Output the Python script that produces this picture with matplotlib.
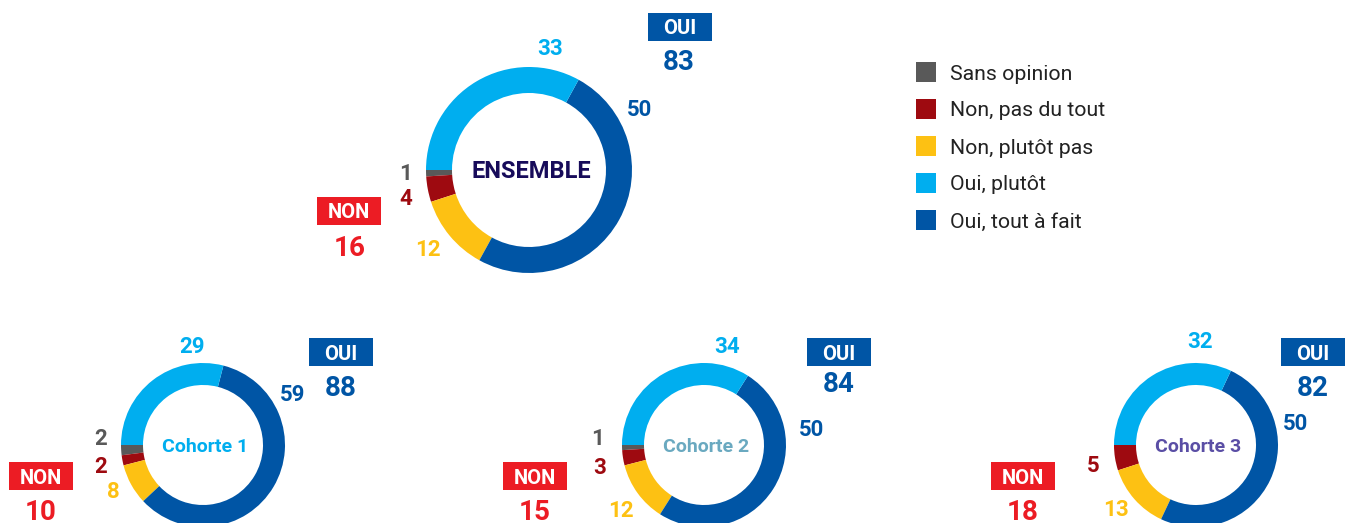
import matplotlib
matplotlib.use("Agg")
import matplotlib.pyplot as plt
from matplotlib.patches import Rectangle

plt.rcParams['font.family'] = ['Roboto', 'DejaVu Sans']

# ---- data ----
categories = ["Sans opinion", "Non, pas du tout", "Non, plutôt pas", "Oui, tout à fait", "Oui, plutôt"]
legend_order = ["Sans opinion", "Non, pas du tout", "Non, plutôt pas", "Oui, plutôt", "Oui, tout à fait"]
chart_titles = ["ENSEMBLE", "Cohorte 1", "Cohorte 2", "Cohorte 3"]
ensemble = [1, 4, 12, 50, 33]
cohorte1 = [2, 2, 8, 59, 29]
cohorte2 = [1, 3, 12, 50, 34]
cohorte3 = [0, 5, 13, 50, 32]
oui_totals = [83, 88, 84, 82]
non_totals = [16, 10, 15, 18]

# ---- style ----
colors = {"Sans opinion": "#595959", "Non, pas du tout": "#9e0a10",
          "Non, plutôt pas": "#fdc113", "Oui, plutôt": "#00aeef",
          "Oui, tout à fait": "#0055a5"}
title_colors = ["#170b5a", "#00aeef", "#6aa9c0", "#5a4ea5"]
OUI_C = "#0055a5"
NON_C = "#ec1c24"

W, H = 1352, 523
fig = plt.figure(figsize=(W / 100, H / 100), dpi=100)
ax = fig.add_axes([0, 0, 1, 1])

TY = 2  # small downward nudge for text so glyphs sit centred like the reference

def Y(y):
    return H - y

def YT(y):
    return H - y - TY

# layout: center, outer radius, ring width, label positions (image px)
layouts = [
    dict(c=(529, 170), r=103, w=26, fs_t=17,
         lab=[(406, 172), (406, 197), (428, 248), (640, 108), (550, 47)],
         non_box=(349, 211), non_val=(350, 246), oui_box=(680, 27), oui_val=(679, 60)),
    dict(c=(203, 445), r=82, w=22, fs_t=14,
         lab=[(101, 437), (101, 465), (113, 490), (293, 393), (192, 345)],
         non_box=(41, 476), non_val=(41, 510), oui_box=(341, 352), oui_val=(341, 386)),
    dict(c=(704, 445), r=82, w=22, fs_t=14,
         lab=[(598, 437), (600, 466), (621, 509), (812, 428), (727, 345)],
         non_box=(535, 476), non_val=(535, 511), oui_box=(839, 352), oui_val=(839, 383)),
    dict(c=(1196, 445), r=82, w=22, fs_t=14,
         lab=[(1098, 437), (1093, 464), (1116, 508), (1296, 422), (1200, 340)],
         non_box=(1023, 476), non_val=(1023, 511), oui_box=(1313, 352), oui_val=(1313, 386)),
]

datasets = [ensemble, cohorte1, cohorte2, cohorte3]

for i, (vals, L) in enumerate(zip(datasets, layouts)):
    cx, cy = L["c"]
    ax.pie(vals, colors=[colors[c] for c in categories], startangle=180,
           counterclock=True, center=(cx, Y(cy)), radius=L["r"],
           wedgeprops=dict(width=L["w"], linewidth=0))
    ax.text(cx + 2, YT(cy), chart_titles[i], ha="center", va="center",
            fontsize=L["fs_t"], fontweight="bold", color=title_colors[i])
    for cat, v, (lx, ly) in zip(categories, vals, L["lab"]):
        if v == 0:
            continue
        ax.text(lx, YT(ly), str(v), ha="center", va="center", fontsize=16,
                fontweight="bold", color=colors[cat])
    # NON box
    bx, by = L["non_box"]
    ax.add_patch(Rectangle((bx - 32, Y(by) - 14), 64, 28, color=NON_C, lw=0))
    ax.text(bx, YT(by), "NON", ha="center", va="center", fontsize=14.5,
            fontweight="bold", color="white")
    nx, ny = L["non_val"]
    ax.text(nx, YT(ny), str(non_totals[i]), ha="center", va="center",
            fontsize=20, fontweight="bold", color=NON_C)
    # OUI box
    ox, oy = L["oui_box"]
    ax.add_patch(Rectangle((ox - 32, Y(oy) - 14), 64, 28, color=OUI_C, lw=0))
    ax.text(ox, YT(oy), "OUI", ha="center", va="center", fontsize=14.5,
            fontweight="bold", color="white")
    vx, vy = L["oui_val"]
    ax.text(vx, YT(vy), str(oui_totals[i]), ha="center", va="center",
            fontsize=20, fontweight="bold", color=OUI_C)

# legend
for k, cat in enumerate(legend_order):
    y = 72 + 37 * k
    ax.add_patch(Rectangle((916, Y(y) - 10), 20, 20, color=colors[cat], lw=0))
    ax.text(950, YT(y), cat, ha="left", va="center", fontsize=15.3, color="#222222")

ax.set_xlim(0, W)
ax.set_ylim(0, H)
ax.set_aspect("equal")
ax.axis("off")

fig.savefig("out.png", dpi=100, facecolor="white")
